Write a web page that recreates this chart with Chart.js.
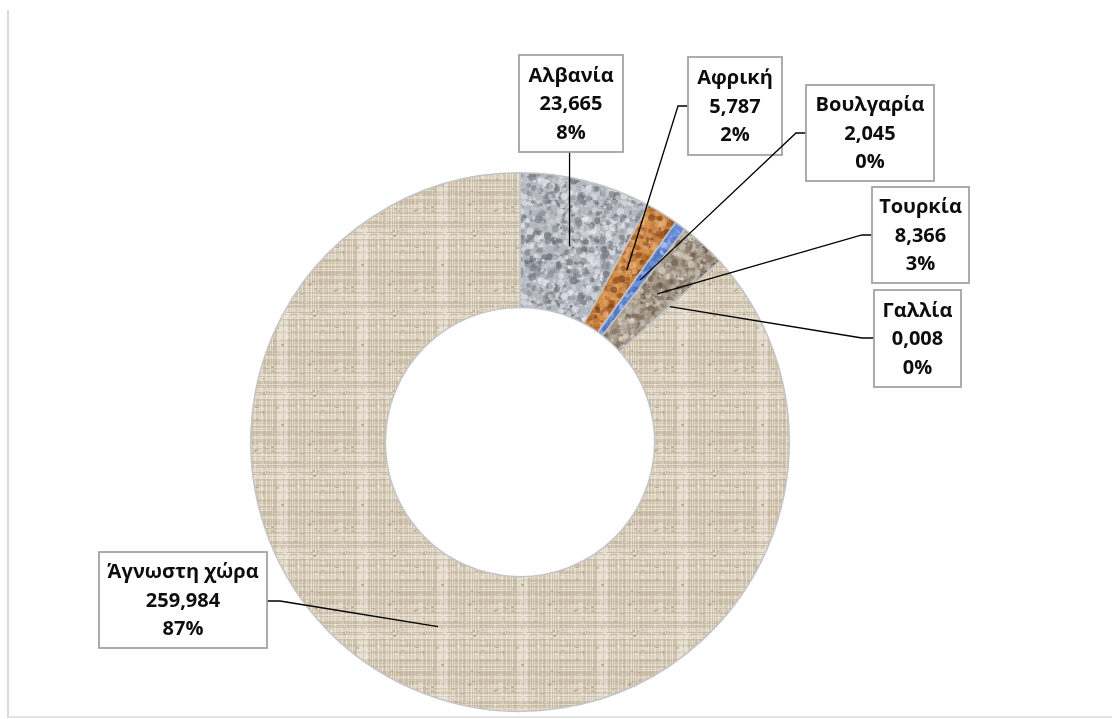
<!DOCTYPE html>
<html>
<head>
<meta charset="utf-8">
<script src="https://cdn.jsdelivr.net/npm/chart.js@4.4.1/dist/chart.umd.min.js"></script>
<style>
  html, body { margin: 0; padding: 0; background: #fff; }
  #wrap { position: relative; width: 1112px; height: 719px; }
  #frame {
    position: absolute; left: 7px; top: 10px; right: 0; bottom: 1px;
    border-left: 2px solid #d9d9d9; border-bottom: 2px solid #e3e3e3;
  }
  canvas { position: absolute; left: 0; top: 0; }
</style>
</head>
<body>
<div id="wrap">
  <div id="frame"></div>
  <canvas id="donutChart" width="1112" height="719"></canvas>
</div>
<script>
const categories = ["Αλβανία", "Αφρική", "Βουλγαρία", "Τουρκία", "Γαλλία", "Άγνωστη χώρα"];
const values = [23.665, 5.787, 2.045, 8.366, 0.008, 259.984];
const percentLabels = ["8%", "2%", "0%", "3%", "0%", "87%"];

// label boxes, placed like the excel original
const labelBoxes = [
    { x: 519, y: 55, w: 104, h: 97, end: [571, 152] },
    { x: 688, y: 57, w: 94, h: 98, elbow: [678, 106], end: [688, 106] },
    { x: 806, y: 85, w: 128, h: 96, elbow: [796, 133], end: [806, 133] },
    { x: 872, y: 187, w: 97, h: 96, elbow: [862, 235], end: [872, 235] },
    { x: 874, y: 290, w: 87, h: 97, elbow: [862, 338], end: [874, 338] },
    { x: 99, y: 552, w: 168, h: 96, elbow: [280, 601], end: [267, 601] }
];

// small seeded generator so the textures look the same every time
let seed = 7;
function rnd() {
    seed = (seed * 16807) % 2147483647;
    return (seed - 1) / 2147483646;
}

function granite(base, palette) {
    const c = document.createElement("canvas");
    c.width = 100; c.height = 100;
    const g = c.getContext("2d");
    g.fillStyle = base;
    g.fillRect(0, 0, 100, 100);
    for (let i = 0; i < 700; i++) {
        g.globalAlpha = 0.3 + rnd() * 0.4;
        g.fillStyle = palette[Math.floor(rnd() * palette.length)];
        g.beginPath();
        g.arc(rnd() * 100, rnd() * 100, 1 + rnd() * 2.8, 0, Math.PI * 2);
        g.fill();
    }
    return g.createPattern(c, "repeat");
}

function linen() {
    const c = document.createElement("canvas");
    c.width = 80; c.height = 80;
    const g = c.getContext("2d");
    g.fillStyle = "#dcd2bf";
    g.fillRect(0, 0, 80, 80);
    for (let i = 0; i < 80; i++) {
        g.globalAlpha = 0.2 + rnd() * 0.4;
        g.fillStyle = rnd() < 0.5 ? "#bfb098" : "#f0eadf";
        g.fillRect(0, i, 80, 1);
        g.globalAlpha = 0.2 + rnd() * 0.4;
        g.fillStyle = rnd() < 0.5 ? "#bcae95" : "#f2ede3";
        g.fillRect(i, 0, 1, 80);
    }
    for (let i = 0; i < 140; i++) {
        g.globalAlpha = 0.3 + rnd() * 0.3;
        g.fillStyle = rnd() < 0.5 ? "#a4957c" : "#f7f3ec";
        g.fillRect(Math.floor(rnd() * 80), Math.floor(rnd() * 80), 1 + Math.floor(rnd() * 3), 1 + Math.floor(rnd() * 2));
    }
    return g.createPattern(c, "repeat");
}

const fills = [
    granite("#b3b7be", ["#63676f", "#7f838b", "#d4d7dc", "#eceef1"]),
    granite("#d4904c", ["#9c5822", "#b36e36", "#e8b07a", "#7a3f1c"]),
    granite("#6c8fd8", ["#3f63b2", "#a9c2f0", "#5a7fcc"]),
    granite("#a39787", ["#645748", "#7f7162", "#c9bfb2", "#e0d9cf"]),
    granite("#a39787", ["#645748", "#c9bfb2"]),
    linen()
];

function fmt(v) {
    return v.toFixed(3).replace(".", ",");
}

const calloutPlugin = {
    id: "callouts",
    afterDatasetsDraw(chart) {
        const ctx = chart.ctx;
        const arcs = chart.getDatasetMeta(0).data;
        ctx.save();
        arcs.forEach((arc, i) => {
            const b = labelBoxes[i];
            const p = arc.tooltipPosition();
            ctx.strokeStyle = "#000";
            ctx.lineWidth = 1.3;
            ctx.beginPath();
            ctx.moveTo(p.x, p.y);
            if (b.elbow) {
                ctx.lineTo(b.elbow[0], b.elbow[1]);
                ctx.lineTo(b.end[0], b.end[1]);
            } else {
                ctx.lineTo(p.x, b.end[1]);
            }
            ctx.stroke();

            ctx.fillStyle = "#fff";
            ctx.fillRect(b.x, b.y, b.w, b.h);
            ctx.strokeStyle = "#a3a3a3";
            ctx.lineWidth = 1.8;
            ctx.strokeRect(b.x, b.y, b.w, b.h);

            ctx.fillStyle = "#0d0d0d";
            ctx.font = "bold 20px 'Open Sans', sans-serif";
            ctx.textAlign = "center";
            ctx.textBaseline = "middle";
            const cx = b.x + b.w / 2;
            const cy = b.y + b.h / 2 + 1;
            const lines = [categories[i], fmt(values[i]), percentLabels[i]];
            lines.forEach((t, k) => ctx.fillText(t, cx, cy + (k - 1) * 28.5));
        });
        ctx.restore();
    }
};

new Chart(document.getElementById("donutChart").getContext("2d"), {
    type: "doughnut",
    data: {
        labels: categories,
        datasets: [{
            data: values,
            backgroundColor: fills,
            borderColor: "#c4c4c4",
            borderWidth: 1.5
        }]
    },
    options: {
        responsive: false,
        animation: false,
        cutout: "50%",
        layout: { padding: { left: 250, right: 322, top: 172, bottom: 7 } },
        plugins: {
            legend: { display: false },
            tooltip: { enabled: false }
        }
    },
    plugins: [calloutPlugin]
});
</script>
</body>
</html>
